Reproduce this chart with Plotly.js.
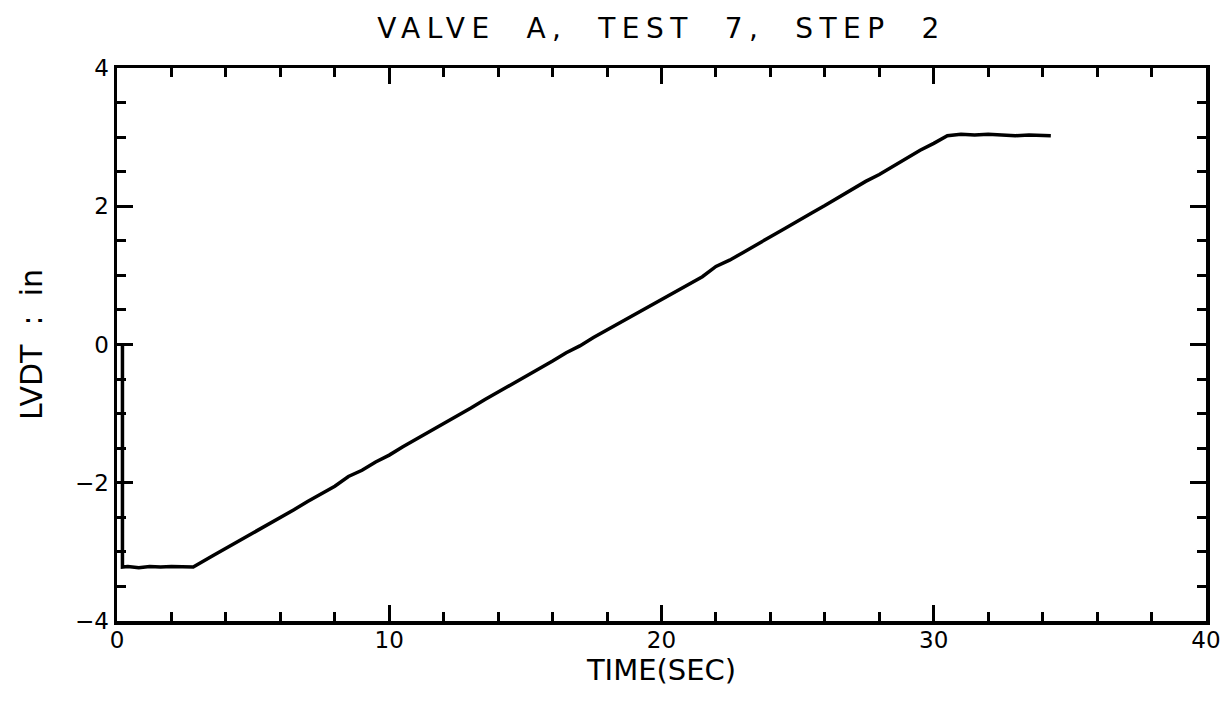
<!DOCTYPE html>
<html>
<head>
<meta charset="utf-8">
<script src="https://cdn.plot.ly/plotly-3.0.1.min.js"></script>
<style>
  html, body { margin: 0; padding: 0; background: #fff; }
  #chart { width: 1230px; height: 703px; }
</style>
</head>
<body>
<div id="chart"></div>
<script>
// Time (s) and LVDT (in)
const timeSec = [0.2, 0.2, 0.4, 0.8, 1.2, 1.6, 2.0, 2.4, 2.8,
  3.5, 4.0, 4.5, 5.0, 5.5, 6.0, 6.5, 7.0, 7.5, 8.0, 8.5, 9.0, 9.5,
  10.0, 10.5, 11.0, 11.5, 12.0, 12.5, 13.0, 13.5, 14.0, 14.5, 15.0, 15.5,
  16.0, 16.5, 17.0, 17.5, 18.0, 18.5, 19.0, 19.5, 20.0, 20.5, 21.0, 21.5,
  22.0, 22.5, 23.0, 23.5, 24.0, 24.5, 25.0, 25.5, 26.0, 26.5, 27.0, 27.5,
  28.0, 28.5, 29.0, 29.5, 30.0, 30.5, 31.0, 31.5, 32.0, 32.5, 33.0, 33.5, 34.0, 34.3];
const lvdtIn = [0.0, -3.22, -3.21, -3.23, -3.21, -3.22, -3.21, -3.22, -3.22,
  -3.06, -2.95, -2.84, -2.72, -2.62, -2.50, -2.39, -2.27, -2.16, -2.05, -1.91, -1.82, -1.70,
  -1.60, -1.48, -1.37, -1.25, -1.14, -1.03, -0.92, -0.80, -0.69, -0.58, -0.47, -0.35,
  -0.24, -0.12, -0.02, 0.10, 0.21, 0.32, 0.43, 0.55, 0.66, 0.77, 0.88, 0.98,
  1.13, 1.22, 1.33, 1.45, 1.56, 1.67, 1.79, 1.90, 2.01, 2.13, 2.24, 2.36,
  2.46, 2.58, 2.69, 2.81, 2.91, 3.02, 3.04, 3.03, 3.04, 3.03, 3.02, 3.03, 3.02, 3.02];

const xTickVals = [0, 10, 20, 30, 40];
const yTickVals = [-4, -2, 0, 2, 4];

const FONT = '"DejaVu Sans", "Liberation Sans", sans-serif';

const trace = {
  x: timeSec, y: lvdtIn, type: 'scatter', mode: 'lines',
  line: { color: '#000', width: 3.5 }, hoverinfo: 'skip'
};

const axisCommon = {
  showgrid: false, zeroline: false, showline: true, linecolor: '#000', linewidth: 3.5,
  mirror: 'allticks', ticks: 'inside', tickcolor: '#000', tickwidth: 3, ticklen: 16,
  tickfont: { family: FONT, size: 23, color: '#000' }
};

const layout = {
  width: 1230, height: 703,
  paper_bgcolor: '#fff', plot_bgcolor: '#fff',
  margin: { l: 117, r: 24, t: 68, b: 82 },
  showlegend: false,
  title: { text: '<span style="letter-spacing:6.5px">VALVE  A,  TEST  7,  STEP  2</span>',
           xref: 'paper', x: 0.5, xanchor: 'center', y: 0.96, yanchor: 'middle',
           font: { family: FONT, size: 28, color: '#000' } },
  xaxis: Object.assign({}, axisCommon, {
    range: [0, 40], tickvals: xTickVals, ticktext: xTickVals.map(String),
    ticklabelstandoff: -4,
    minor: { dtick: 2, ticks: 'inside', ticklen: 9, tickcolor: '#000', tickwidth: 3, showgrid: false },
    title: { text: 'TIME(SEC)', standoff: 0, font: { family: FONT, size: 29, color: '#000' } }
  }),
  yaxis: Object.assign({}, axisCommon, {
    range: [-4, 4], tickvals: yTickVals, ticktext: yTickVals.map(v => v < 0 ? '\u2212' + Math.abs(v) : String(v)),
    minor: { dtick: 0.5, ticks: 'inside', ticklen: 9, tickcolor: '#000', tickwidth: 3, showgrid: false },
    title: { text: 'LVDT  :  in', standoff: 24, font: { family: FONT, size: 30, color: '#000' } }
  })
};

Plotly.newPlot('chart', [trace], layout, { displayModeBar: false, staticPlot: true });
</script>
</body>
</html>
